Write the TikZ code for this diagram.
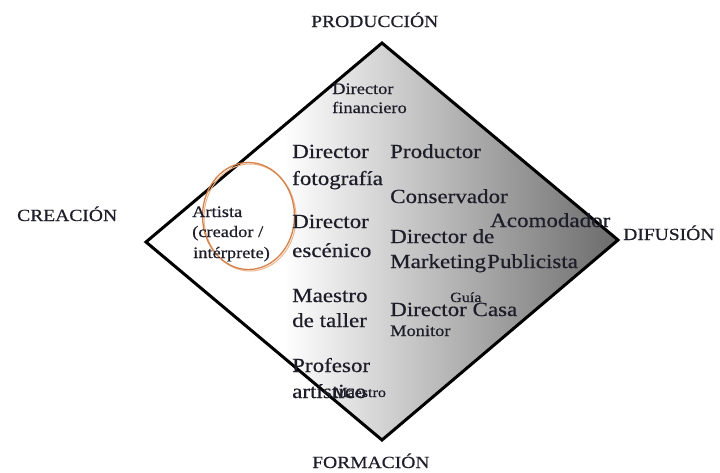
\documentclass[tikz,border=0pt]{standalone}
\usepackage{fontspec}
\setmainfont{Liberation Serif}[FakeStretch=1.15,FakeBold=0.6]
\definecolor{txt}{HTML}{1E1E2A}
\definecolor{ring}{HTML}{D4824A}
\definecolor{ringlight}{HTML}{EDB48C}
\pgfdeclarehorizontalshading{diamondshade}{100bp}{color(0bp)=(white); color(39.5bp)=(white); color(75bp)=(black!58); color(100bp)=(black!58)}
\tikzset{
  big/.style={font=\fontsize{20}{27}\selectfont, anchor=base west, inner sep=0pt, text=txt},
  small/.style={font=\fontsize{16}{20}\selectfont, anchor=base west, inner sep=0pt, text=txt},
  tiny/.style={font=\fontsize{14}{18}\selectfont, anchor=base west, inner sep=0pt, text=txt},
  axis/.style={font=\fontsize{17}{20}\selectfont, anchor=base west, inner sep=0pt, text=txt},
}
\begin{document}
\begin{tikzpicture}[x=1pt,y=-1pt]
\useasboundingbox (0,0) rectangle (720,472);
% diamond
\coordinate (T) at (382,43);
\coordinate (L) at (146,242);
\coordinate (B) at (382,440);
\coordinate (R) at (618,240);
\shade[shading=diamondshade] (T) -- (R) -- (B) -- (L) -- cycle;
\draw[line width=3pt, line join=miter] (T) -- (R) -- (B) -- (L) -- cycle;
% ring
\draw[ringlight, line width=1pt] (250,217.5) ellipse [x radius=46, y radius=53.5];
\draw[ring, line width=1.3pt] (248.5,216) ellipse [x radius=46, y radius=53.5];
% axis labels
\node[axis] (prod) at (311,27) {PRODUCCIÓN};
\node[axis] (crea) at (17,221) {CREACIÓN};
\node[axis] (difu) at (623,240) {DIFUSIÓN};
\node[axis] (form) at (312,468) {FORMACIÓN};
% inner texts
\node[small] (df1) at (332,94) {Director};
\node[small] (df2) at (332,113) {financiero};
\node[big] (dfo1) at (292,158) {Director};
\node[big] (dfo2) at (292,185) {fotografía};
\node[big] (prd) at (390,158) {Productor};
\node[big] (con) at (390,203) {Conservador};
\node[big] (aco) at (490,227) {Acomodador};
\node[small] (art1) at (192,217) {Artista};
\node[small] (art2) at (192,237) {(creador /};
\node[small] (art3) at (193,258) {intérprete)};
\node[big] (des1) at (292,228) {Director};
\node[big] (des2) at (292,257) {escénico};
\node[big] (dm1) at (390,243) {Director de};
\node[big] (dm2) at (390,268) {Marketing};
\node[big] (pub) at (487,268) {Publicista};
\node[big] (mt1) at (292,302) {Maestro};
\node[big] (mt2) at (292,327) {de taller};
\node[tiny] (gui) at (450,302) {Guía};
\node[big] (dca) at (390,316) {Director Casa};
\node[small] (mon) at (390,336) {Monitor};
\node[big] (pa1) at (292,372) {Profesor};
\node[big] (pa2) at (292,398) {artístico};
\node[tiny] (mae) at (333,397) {Maestro};
\end{tikzpicture}
\end{document}
